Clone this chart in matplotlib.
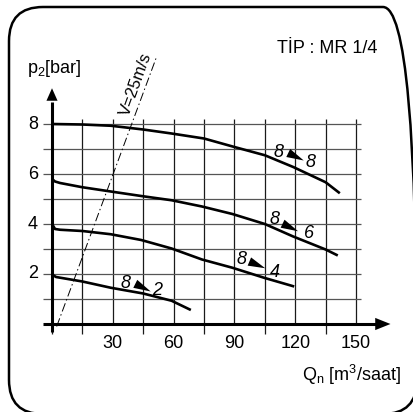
import matplotlib
matplotlib.use("Agg")
import matplotlib.pyplot as plt
from matplotlib.patches import FancyBboxPatch

plt.rcParams['font.family'] = ['Liberation Sans', 'DejaVu Sans']
plt.rcParams['mathtext.default'] = 'regular'

# ---- data ----
x_ticks = [30, 60, 90, 120, 150]
y_ticks = [2, 4, 6, 8]
x_grid = [15, 30, 45, 60, 75, 90, 105, 120, 135, 150]
y_grid = [1, 2, 3, 4, 5, 6, 7, 8]
x_minor_ticks = [0, 15, 45, 75, 105, 135]

q_88 = [0, 15, 29, 45, 59, 75, 90, 105, 119, 135, 142]
p_88 = [8.0, 7.98, 7.93, 7.78, 7.62, 7.42, 7.08, 6.75, 6.28, 5.67, 5.23]

q_86 = [0, 1.5, 4, 15, 29, 44, 59, 74, 89, 105, 119, 135, 141]
p_86 = [5.8, 5.7, 5.64, 5.47, 5.3, 5.12, 4.95, 4.70, 4.40, 4.0, 3.5, 2.98, 2.74]

q_84 = [0, 1.5, 4, 15, 29, 44, 59, 74, 89, 105, 119.5]
p_84 = [4.0, 3.8, 3.77, 3.72, 3.59, 3.36, 3.02, 2.58, 2.25, 1.84, 1.50]

q_82 = [0, 2, 15, 29, 45, 59, 68.5]
p_82 = [1.98, 1.88, 1.70, 1.45, 1.22, 0.93, 0.56]

curve_labels = ["8", "8", "8", "8"]
curve_targets = ["8", "6", "4", "2"]
# label anchor points (first digit, arrow start, arrow end, second digit)
lab_first = [(111.8, 6.88), (110.0, 4.19), (93.7, 2.57), (36.5, 1.61)]
arr_start = [(116.3, 6.85), (114.3, 3.99), (98.2, 2.47), (41.0, 1.61)]
arr_end = [(124.2, 6.54), (121.4, 3.71), (105.2, 2.23), (48.7, 1.30)]
lab_second = [(127.4, 6.45), (126.6, 3.62), (110.2, 2.07), (52.0, 1.34)]

v_line_q = [2.3, 51.7]
v_line_p = [-0.1, 10.71]
v_text = "V=25m/s"

title = "TİP : MR 1/4"
ylabel = r"p$_\mathregular{2}$[bar]"
xlabel = r"Q$_\mathregular{n}$ [m$^\mathregular{3}$/saat]"

# ---- figure ----
W, H = 414, 412
fig = plt.figure(figsize=(W / 100, H / 100), dpi=100)
ax = fig.add_axes([41.87 / W, (H - 349) / H, 354.7 / W, 262.5 / H])
ax.set_xlim(-5, 170)
ax.set_ylim(-1, 9.5)
ax.axis('off')

grid_v_col = '#1a1a1a'
grid_h_col = '#555555'
# vertical grid
for g in x_grid:
    ax.plot([g, g], [0, 8.2], color=grid_v_col, lw=0.9, solid_capstyle='butt')
for g in x_minor_ticks:
    ax.plot([g, g], [-0.4, 0], color=grid_v_col, lw=0.9, solid_capstyle='butt')
# horizontal grid
for g in y_grid:
    ax.plot([-4.5, 152.5], [g, g], color=grid_h_col, lw=0.9, solid_capstyle='butt')

# axes with arrows
ax.plot([-4.5, 160], [0, 0], color='black', lw=2.2, solid_capstyle='butt')
ax.annotate('', xy=(167, 0), xytext=(155, 0),
            arrowprops=dict(arrowstyle='-|>,head_length=0.55,head_width=0.22',
                            color='black', lw=0, shrinkA=0, shrinkB=0,
                            mutation_scale=20))
ax.plot([0, 0], [-0.3, 8.9], color='black', lw=2.2, solid_capstyle='butt')
ax.annotate('', xy=(0, 9.43), xytext=(0, 8.5),
            arrowprops=dict(arrowstyle='-|>,head_length=0.45,head_width=0.2',
                            color='black', lw=0, shrinkA=0, shrinkB=0,
                            mutation_scale=20))

# curves
for q, p in [(q_88, p_88), (q_86, p_86), (q_84, p_84), (q_82, p_82)]:
    ax.plot(q, p, color='black', lw=1.9, solid_capstyle='butt', solid_joinstyle='round')

# curve labels
for a, s, e, b, t1, t2 in zip(lab_first, arr_start, arr_end, lab_second,
                              curve_labels, curve_targets):
    ax.text(a[0], a[1], t1, fontsize=13, fontstyle='italic', ha='center', va='center')
    ax.text(b[0], b[1], t2, fontsize=13, fontstyle='italic', ha='center', va='center')
    ax.annotate('', xy=e, xytext=s,
                arrowprops=dict(arrowstyle='-|>,head_length=0.62,head_width=0.16',
                                color='black', lw=0, shrinkA=0, shrinkB=0,
                                mutation_scale=20))

# velocity line
ax.plot(v_line_q, v_line_p, color='black', lw=0.7, dashes=(9, 3, 1.5, 3), clip_on=False)
ax.text(41.6, 9.6, v_text, fontsize=12, rotation=70, ha='center', va='center',
        rotation_mode='anchor')

# tick labels
for t in x_ticks:
    ax.text(t, -0.77, str(t), fontsize=13, ha='center', va='center')
for t in y_ticks:
    ax.text(-9.4, t, str(t), fontsize=13, ha='center', va='center')

# texts
fig.text(377 / W, 1 - 53 / H, title, fontsize=13, ha='right', va='baseline')
fig.text(27 / W, 1 - 73 / H, ylabel, fontsize=13, ha='left', va='baseline')
fig.text(401 / W, 1 - 381 / H, xlabel, fontsize=13, ha='right', va='baseline')

# rounded frame
r = 0.34
frame = FancyBboxPatch((0.09, -0.02), 4.08, 4.07,
                       boxstyle=f"round,pad=0,rounding_size={r}",
                       transform=fig.dpi_scale_trans, fill=False,
                       edgecolor='black', lw=1.8, clip_on=False)
fig.add_artist(frame)

fig.savefig('out.png', dpi=100)
